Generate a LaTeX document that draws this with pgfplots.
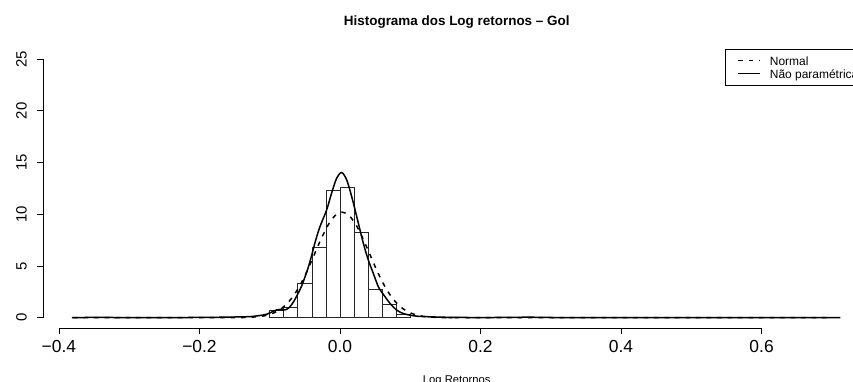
\documentclass[border=0pt]{standalone}
\usepackage{pgfplots}
\pgfplotsset{compat=1.18}
\usepackage{fontspec}
\setmainfont{Liberation Sans}
\usetikzlibrary{calc}

% Histogram of the log returns (bin width 0.02)
\pgfplotstableread{
x     y
-0.10 0.73
-0.08 0.95
-0.06 3.31
-0.04 6.77
-0.02 12.26
0.00  12.58
0.02  8.26
0.04  2.73
0.06  1.31
0.08  0.28
0.10  0.28
}\histdata

\begin{document}
\begin{tikzpicture}
\begin{axis}[
  at={(0,0)}, anchor=south west,
  scale only axis,
  width=827.5bp, height=279.3bp,
  xmin=-0.4227, xmax=0.7550,
  ymin=-1, ymax=26,
  axis line style={draw=none},
  axis x line*=bottom, axis y line*=left,
  tick align=outside,
  major tick length=6.3bp,
  tick style={black, line width=0.75bp},
  xtick={-0.4,-0.2,0,0.2,0.4,0.6},
  xticklabels={−0.4,−0.2,0.0,0.2,0.4,0.6},
  ytick={0,5,10,15,20,25},
  yticklabels={0,5,10,15,20,25},
  xticklabel style={font=\fontsize{17.5}{20}\selectfont, anchor=base, yshift=-18bp},
  yticklabel style={font=\fontsize{15}{18}\selectfont, xshift=-10bp, rotate=90, anchor=base},
  clip=false,
  legend style={at={(1,1)}, anchor=north east, draw=black,
    inner xsep=12bp, inner ysep=5bp, font=\fontsize{12}{13}\selectfont,
    cells={anchor=west}, row sep=0pt,
    nodes={inner sep=0pt, text height=12bp, text depth=1bp},
    /tikz/every odd column/.append style={column sep=9bp}},
  legend image code/.code={\draw[#1] (0bp,0bp) -- (21.6bp,0bp);},
  legend image post style={line width=1.7bp},
]
\coordinate (bl) at (rel axis cs:0,0);

\addplot[ybar interval, fill=white, draw=black!85, line width=0.75bp, forget plot]
  table[x=x, y=y] {\histdata};

% fitted normal density
\addplot[smooth, black, line width=1.5bp, dash pattern=on 4.5bp off 6bp] coordinates {
(-0.380,0) (-0.200,0) (-0.160,0.002) (-0.153,0.0034) (-0.1335,0.022)
(-0.114,0.113) (-0.10425,0.233) (-0.0945,0.45) (-0.08475,0.81) (-0.075,1.38)
(-0.06525,2.21) (-0.0555,3.31) (-0.04575,4.67) (-0.036,6.19) (-0.02625,7.70)
(-0.0165,9.00) (-0.00675,9.886) (0.003,10.2) (0.01275,9.886) (0.0225,9.00)
(0.03225,7.70) (0.042,6.19) (0.05175,4.67) (0.0615,3.31) (0.07125,2.21)
(0.081,1.38) (0.09075,0.81) (0.1005,0.45) (0.11025,0.233) (0.120,0.113)
(0.1395,0.022) (0.159,0.0034) (0.200,0) (0.700,0)
};
\addlegendentry{Normal}

% kernel density estimate
\addplot[smooth, tension=0.5, black, line width=1.5bp] coordinates {
(-0.3815,0.003) (-0.35,0.02) (-0.30,0.01) (-0.25,0.01) (-0.20,0.02)
(-0.16,0.05) (-0.14,0.08) (-0.128,0.10) (-0.115,0.20) (-0.105,0.32)
(-0.097,0.55) (-0.090,0.75) (-0.084,0.80) (-0.078,0.75) (-0.072,1.00)
(-0.066,1.55) (-0.060,2.30) (-0.055,3.00) (-0.050,3.90) (-0.045,4.90)
(-0.040,6.10) (-0.035,7.40) (-0.0285,8.80) (-0.019,10.42) (-0.012,12.03)
(-0.0047,13.49) (0.0024,14.03) (0.0095,13.32) (0.0166,11.71) (0.0238,9.77)
(0.0332,7.19) (0.0403,5.57) (0.0474,4.28) (0.0546,2.98) (0.0607,2.34)
(0.0712,1.38) (0.0806,0.73) (0.090,0.40) (0.0996,0.24) (0.110,0.14)
(0.128,0.08) (0.157,0.03) (0.20,0.01) (0.25,0.03) (0.27,0.05)
(0.29,0.02) (0.35,0.005) (0.50,0.0) (0.68,0.01) (0.712,0.0)
};
\addlegendentry{Não paramétrica}

% axis lines spanning the tick range
\draw[black, line width=0.75bp] (axis cs:-0.4,-1) -- (axis cs:0.6,-1);
\draw[black, line width=0.75bp] (axis cs:-0.4227,0) -- (axis cs:-0.4227,25);
\end{axis}

\node[anchor=base, font=\bfseries\fontsize{13.5}{16}\selectfont]
  at ($(bl)+(413.75bp,302bp)$) {Histograma dos Log retornos – Gol};
\node[anchor=base, font=\fontsize{11.3}{13}\selectfont]
  at ($(bl)+(413.75bp,-55bp)$) {Log Retornos};

\pgfresetboundingbox
\path[use as bounding box] ($(bl)+(-43bp,-54bp)$) rectangle ($(bl)+(810bp,328bp)$);
\end{tikzpicture}
\end{document}
